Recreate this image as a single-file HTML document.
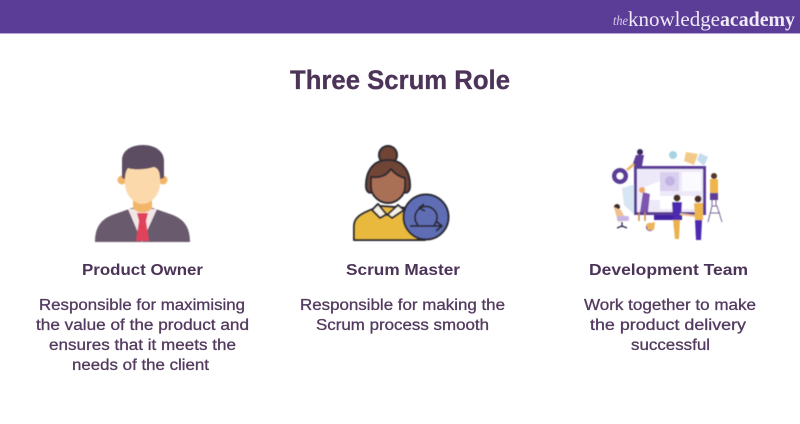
<!DOCTYPE html>
<html lang="en"><head><meta charset="utf-8"><title>Three Scrum Role</title>
<style>
html,body{margin:0;padding:0;background:#fff}
svg{display:block}
text{font-family:"Liberation Sans",Arial,sans-serif}
.t{fill:#4c3358;font-weight:bold;font-size:16px}
.b{fill:#533a5f;font-size:15.5px;stroke:#533a5f;stroke-width:.3}
</style></head><body>
<svg width="800" height="424" viewBox="0 0 800 424" xmlns="http://www.w3.org/2000/svg">
<defs><filter id="s" x="-5%" y="-5%" width="110%" height="110%"><feGaussianBlur stdDeviation="0.45"/></filter></defs>
<rect width="800" height="424" fill="#fff"/>
<rect width="800" height="33" fill="#5b3c97"/>
<rect y="33" width="800" height="1" fill="#b9a6d6"/>
<text x="613" y="25" font-size="14" font-style="italic" fill="#d8cdea" style="font-family:'Liberation Serif',serif" textLength="15" lengthAdjust="spacingAndGlyphs">the</text>
<text x="628" y="26" font-size="21" fill="#f0ebf7" style="font-family:'Liberation Serif',serif" textLength="92" lengthAdjust="spacingAndGlyphs">knowledge</text>
<text x="720" y="26" font-size="21" font-weight="bold" fill="#f0ebf7" style="font-family:'Liberation Serif',serif" textLength="75" lengthAdjust="spacingAndGlyphs">academy</text>

<text x="290" y="89" font-size="27" font-weight="bold" fill="#4c3358" stroke="#4c3358" stroke-width=".3" textLength="220" lengthAdjust="spacingAndGlyphs">Three Scrum Role</text>

<!-- Product owner -->
<g filter="url(#s)">
<path d="M95 242C95 225 103 218 115 214L132 208H153L170 214C182 218 190 225 190 242Z" fill="#6a5a6e"/>
<path d="M128 209L142 242L157 209Z" fill="#f3e6e6"/>
<path d="M133 198H152V208C148 214 137 214 133 208Z" fill="#f2b56b"/>
<path d="M137 213H148L146 221L149 241H136L139 221Z" fill="#e0435c"/>
<circle cx="122" cy="180" r="4.500" fill="#f2b56b"/><circle cx="163" cy="180" r="4.500" fill="#f2b56b"/>
<path d="M125 165H160V183C160 196 150 204 142.500 204C135 204 125 196 125 183Z" fill="#fbd9ab"/>
<path d="M122 178V160C122 150 132 145 143 145C155 145 164 151 164 161V178L160 179C160 172 158 168 154 167C144 170 132 170 128 168C126 171 125 174 125 179Z" fill="#5d4d63"/>
</g>

<!-- Scrum master -->
<g stroke="#2a2a33" stroke-width="2" stroke-linejoin="round" filter="url(#s)">
<circle cx="388" cy="155" r="9" fill="#6f4436"/>
<path d="M354 240V226C354 218 361 214 368 211L380 206L408 208L425 240Z" fill="#e9b93e"/>
<path d="M378 204L387 215L398 205L404 210L392 218L387 214L380 218L372 210Z" fill="#f5f0e5"/>
<path d="M366 186C366 170 374 160 388 160C402 160 410 170 410 186C410 192 406 194 404 192H372C370 194 366 192 366 186Z" fill="#6f4436"/>
<path d="M371 177C380 178 386 176 391 169C395 174 400 177 405 178V187C405 196 396 203 388 203C380 203 371 196 371 187Z" fill="#aa6f55"/>
<circle cx="426" cy="217" r="22.500" fill="#5f6db5"/>
<path d="M418 225A11 11 0 1 1 434 225M410 226H442M436 221L442 226L436 231M424 204L419 208L425 211" fill="none" stroke-width="1.800"/>
</g>

<!-- Development team -->
<g filter="url(#s)">
<circle cx="620" cy="176" r="8" fill="#5b3c97"/><circle cx="620" cy="176" r="3.500" fill="#fff"/>
<path d="M622 188L636 184V216L624 205Z" fill="#d6e6f3"/>
<circle cx="673" cy="155" r="4" fill="#a9d3e2"/>
<path d="M686 152L698 154L694 165L684 161Z" fill="#f3c98a"/>
<path d="M700 153L708 157L704 166L697 160Z" fill="#c5dcec"/>
<rect x="634" y="166" width="72" height="49" fill="#5b3c97"/>
<rect x="637" y="169" width="66" height="43" fill="#eee9f8"/>
<rect x="660" y="172" width="19" height="19" fill="#d9d0ef"/>
<rect x="682" y="172" width="19" height="19" fill="#fbfaff"/>
<circle cx="670" cy="181" r="5" fill="#c2b4e2"/>
<path d="M645 187L660 181V200H645Z" fill="#fff"/>
<rect x="660" y="196" width="40" height="13" fill="#fff"/>
<path d="M654 215H682V220H654Z" fill="#3f22a0"/>
<path d="M643 192L650 194L648 212L640 212Z" fill="#7d55b0"/><circle cx="642" cy="190" r="3" fill="#f1a65e"/>
<path d="M639 212V221M645 212V221" stroke="#c98a3f" stroke-width="1.500"/>
<circle cx="640" cy="152" r="3" fill="#3b2a5c"/>
<path d="M636 155L644 155L642 166H632Z" fill="#5b3c97"/>
<path d="M634 164L627 170" stroke="#f0b560" stroke-width="2.500"/>
<circle cx="617" cy="207" r="3" fill="#3d2a2a"/>
<path d="M614 207L621 210L626 220L618 222Z" fill="#f0c08d"/>
<rect x="617" y="216" width="12" height="5" rx="2" fill="#c7b5e6"/>
<path d="M622 222V227M617 228L622 226L627 228" stroke="#33284d" stroke-width="1.300" fill="none"/>
<circle cx="650" cy="227" r="4" fill="#5b3c97"/><path d="M646 224L655 222L654 230H648Z" fill="#efb45a"/>
<circle cx="714" cy="176" r="3" fill="#543726"/>
<path d="M710 179H718V193H710Z" fill="#eeb54d"/><rect x="710" y="193" width="8" height="7" fill="#5b3c97"/>
<path d="M708 222L712 206H717L722 222M710 213H720M712 200V206M716 200V206" stroke="#7a6a9c" stroke-width="1" fill="none"/>
<circle cx="677" cy="198" r="3.500" fill="#4a2f24"/>
<path d="M672 202H682L681 220H673Z" fill="#4b2bb0"/>
<path d="M673 220H680L679 239H675Z" fill="#ecb14f"/>
<circle cx="698" cy="199" r="3.500" fill="#4a2f24"/>
<path d="M694 203H703V220H695Z" fill="#eeb54d"/>
<path d="M695 220H702L701 240H696Z" fill="#4b2bb0"/>
<path d="M680 214L695 216" stroke="#eec190" stroke-width="2"/>
</g>

<text class="t" x="82" y="275" textLength="121" lengthAdjust="spacingAndGlyphs">Product Owner</text>
<text class="t" x="346" y="275" textLength="114" lengthAdjust="spacingAndGlyphs">Scrum Master</text>
<text class="t" x="589" y="275" textLength="159" lengthAdjust="spacingAndGlyphs">Development Team</text>

<text class="b" x="39" y="310" textLength="206" lengthAdjust="spacingAndGlyphs">Responsible for maximising</text>
<text class="b" x="36" y="330" textLength="213" lengthAdjust="spacingAndGlyphs">the value of the product and</text>
<text class="b" x="49" y="350" textLength="187" lengthAdjust="spacingAndGlyphs">ensures that it meets the</text>
<text class="b" x="72" y="370" textLength="137" lengthAdjust="spacingAndGlyphs">needs of the client</text>

<text class="b" x="300" y="310" textLength="205" lengthAdjust="spacingAndGlyphs">Responsible for making the</text>
<text class="b" x="316" y="330" textLength="173" lengthAdjust="spacingAndGlyphs">Scrum process smooth</text>

<text class="b" x="584" y="310" textLength="172" lengthAdjust="spacingAndGlyphs">Work together to make</text>
<text class="b" x="590" y="330" textLength="156" lengthAdjust="spacingAndGlyphs">the product delivery</text>
<text class="b" x="631" y="350" textLength="79" lengthAdjust="spacingAndGlyphs">successful</text>
</svg>
</body></html>
